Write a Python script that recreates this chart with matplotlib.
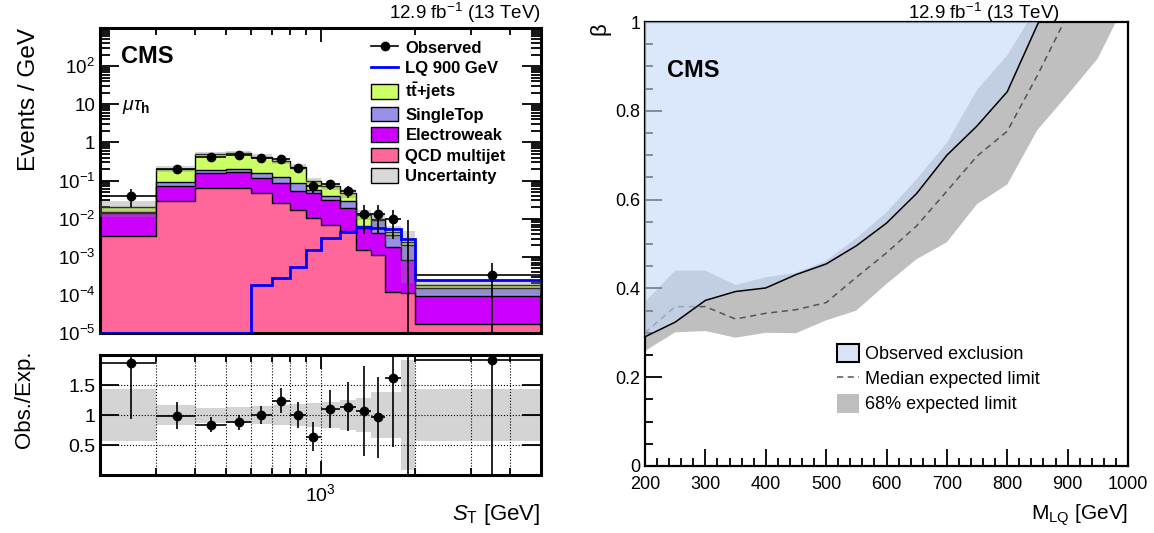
import numpy as np
import matplotlib
matplotlib.use('Agg')
import matplotlib.pyplot as plt
from matplotlib.patches import Patch
from matplotlib.lines import Line2D
from matplotlib.ticker import LogLocator, NullFormatter, MultipleLocator, FixedLocator

plt.rcParams['font.family'] = ['Liberation Sans', 'DejaVu Sans']
plt.rcParams['mathtext.fontset'] = 'custom'
plt.rcParams['mathtext.rm'] = 'Liberation Sans'
plt.rcParams['mathtext.it'] = 'Liberation Sans:italic'
plt.rcParams['mathtext.bf'] = 'Liberation Sans:bold'

# ---- left: S_T distribution (events / GeV) ----
edges = [200, 300, 400, 500, 600, 700, 800, 900, 1000, 1150, 1300, 1450, 1600, 1800, 2000, 5000]
qcd = [3.6e-3, 2.85e-2, 6.4e-2, 6.4e-2, 4.7e-2, 2.6e-2, 1.65e-2, 1.04e-2, 7.0e-3, 4.6e-3, 1.5e-3, 1.1e-3, 1.2e-4, 1.1e-4, 1.7e-5]
ewk = [1.08e-2, 4.2e-2, 9.6e-2, 1.0e-1, 7.1e-2, 6.1e-2, 3.6e-2, 3.7e-2, 2.33e-2, 1.45e-2, 4.2e-3, 3.1e-3, 1.7e-3, 7.2e-4, 7.7e-5]
stop = [8e-4, 1.9e-2, 2.7e-2, 3.8e-2, 4.2e-2, 3.8e-2, 3.5e-2, 1.06e-2, 8.3e-3, 9.4e-3, 6e-4, 4.8e-3, 1.84e-3, 1.24e-3, 5.9e-5]
ttbar = [4.5e-3, 1.13e-1, 3.05e-1, 3.33e-1, 2.6e-1, 1.97e-1, 1.43e-1, 3.8e-2, 3.22e-2, 1.89e-2, 6.5e-3, 8e-4, 8.6e-4, 4.3e-4, 2.9e-5]
lq900 = [0, 0, 0, 0, 1.8e-4, 2.85e-4, 5.5e-4, 1.5e-3, 3.1e-3, 4.4e-3, 5.9e-3, 5.7e-3, 5.4e-3, 3.0e-3, 2.5e-4]
obs_counts = [4, 20, 42, 48, 40, 36, 21, 7, 12, 8, 2, 2, 2, 0, 1]
rel_unc = [0.43, 0.16, 0.125, 0.135, 0.15, 0.17, 0.19, 0.20, 0.21, 0.245, 0.29, 0.39, 0.39, 0.92, 0.435]
ratio_vals = [1.87, 0.99, 0.84, 0.88, 1.0, 1.24, 1.0, 0.64, 1.10, 1.14, 1.06, 0.96, 1.62, 0, 1.91]

# ---- right: beta vs M_LQ exclusion ----
m_obs = [200, 250, 300, 350, 400, 450, 500, 550, 600, 650, 700, 750, 800, 852]
b_obs = [0.291, 0.324, 0.373, 0.393, 0.401, 0.431, 0.455, 0.496, 0.547, 0.614, 0.70, 0.766, 0.843, 1.0]
m_exp = [200, 250, 300, 350, 400, 450, 500, 550, 600, 650, 700, 750, 800, 850, 894]
b_exp = [0.30, 0.359, 0.359, 0.331, 0.344, 0.352, 0.368, 0.425, 0.48, 0.541, 0.619, 0.698, 0.754, 0.88, 1.0]
m_band_hi = [200, 250, 300, 350, 400, 450, 500, 550, 600, 650, 700, 750, 800, 834]
b_band_hi = [0.37, 0.44, 0.44, 0.408, 0.425, 0.435, 0.462, 0.513, 0.571, 0.646, 0.728, 0.847, 0.925, 1.0]
m_band_lo = [200, 250, 300, 350, 400, 450, 500, 550, 600, 650, 700, 750, 800, 850, 900, 950, 980]
b_band_lo = [0.259, 0.301, 0.304, 0.289, 0.30, 0.299, 0.328, 0.35, 0.41, 0.466, 0.504, 0.59, 0.634, 0.757, 0.836, 0.918, 1.0]

W, H = 1154, 533
fig = plt.figure(figsize=(W / 100, H / 100), dpi=100)


def box(x0, y0, x1, y1):
    return [x0 / W, 1 - y1 / H, (x1 - x0) / W, (y1 - y0) / H]


ax = fig.add_axes(box(100, 28, 541, 333))
rax = fig.add_axes(box(100, 355, 541, 475))
bax = fig.add_axes(box(645, 22, 1128, 466))

edges = np.array(edges, dtype=float)
widths = np.diff(edges)
centers = 0.5 * (edges[1:] + edges[:-1])
colors = ['#ff6699', '#cc00ff', '#9990e8', '#ccff66']
cum = np.cumsum(np.array([qcd, ewk, stop, ttbar]), axis=0)

ax.set_xscale('log')
ax.set_yscale('log')
for i in reversed(range(4)):
    ax.stairs(cum[i], edges, baseline=1e-8, fill=True, facecolor=colors[i],
              edgecolor='black', lw=1, zorder=2)
total = cum[-1]
unc = np.array(rel_unc)
ax.stairs(total * (1 + unc), edges, baseline=total * (1 - unc), fill=True,
          facecolor='#888888', alpha=0.35, edgecolor='none', zorder=3)
ax.stairs(np.maximum(lq900, 1.03e-5), edges, baseline=None, color='#0000ff', lw=2, zorder=4)

obs = np.array(obs_counts, dtype=float)
has = obs > 0
dens = obs / widths
err = np.sqrt(obs) / widths
lo = np.minimum(err, dens - 1e-7)
ax.errorbar(centers[has], dens[has], xerr=widths[has] / 2, yerr=[lo[has], err[has]],
            fmt='o', color='black', ms=6, lw=1.2, capsize=0, zorder=5)
ax.vlines(centers[~has], 1e-6, 1.84 / widths[~has], color='black', lw=1.2, zorder=5)

ax.set_xlim(200, 5000)
ax.set_ylim(1e-5, 1e3)
ax.set_yticks([1e-5, 1e-4, 1e-3, 1e-2, 1e-1, 1, 10, 100, 1000],
              labels=[r'$10^{-5}$', r'$10^{-4}$', r'$10^{-3}$', r'$10^{-2}$', r'$10^{-1}$',
                      '1', '10', r'$10^{2}$', ''])
ax.yaxis.set_minor_locator(LogLocator(base=10, subs=np.arange(2, 10), numticks=100))
ax.yaxis.set_minor_formatter(NullFormatter())
ax.xaxis.set_minor_formatter(NullFormatter())
ax.tick_params(which='both', direction='in', top=True, right=True, labelbottom=False,
               labelsize=13.5, width=1.3)
ax.tick_params(axis='y', which='major', length=14)
ax.tick_params(axis='y', which='minor', length=7)
ax.tick_params(axis='x', which='major', length=10)
ax.tick_params(axis='x', which='minor', length=5)

handles = [
    Line2D([], [], color='black', marker='o', ms=6, lw=1.2),
    Line2D([], [], color='#0000ff', lw=2),
    Patch(facecolor=colors[3], edgecolor='black', lw=1),
    Patch(facecolor=colors[2], edgecolor='black', lw=1),
    Patch(facecolor=colors[1], edgecolor='black', lw=1),
    Patch(facecolor=colors[0], edgecolor='black', lw=1),
    Patch(facecolor='#d9d9d9', edgecolor='black', lw=1),
]
labels = ['Observed', 'LQ 900 GeV', r'$\mathbf{t\bar{t}}$+jets', 'SingleTop',
          'Electroweak', 'QCD multijet', 'Uncertainty']
ax.legend(handles, labels, loc='upper left', bbox_to_anchor=(0.615, 0.962), frameon=False,
          prop={'weight': 'bold', 'size': 12}, borderpad=0, borderaxespad=0,
          handlelength=1.6, handleheight=1.0, labelspacing=0.26, handletextpad=0.45)

# ratio panel
rax.set_xscale('log')
rax.stairs(1 + unc, edges, baseline=1 - unc, fill=True, facecolor='#d4d4d4',
           edgecolor='none', zorder=1)
ratio = np.array(ratio_vals)
rerr = np.where(has, ratio / np.sqrt(np.maximum(obs, 1)), 0)
rax.errorbar(centers[has], ratio[has], xerr=widths[has] / 2, yerr=rerr[has],
             fmt='o', color='black', ms=6, lw=1.2, capsize=0, zorder=5)
rax.vlines(centers[~has], 0, 2, color='black', lw=1.2, zorder=5)
rax.set_xlim(200, 5000)
rax.set_ylim(0, 2)
rax.set_yticks([0.5, 1, 1.5], labels=['0.5', '1', '1.5'])
rax.xaxis.set_minor_formatter(NullFormatter())
rax.grid(True, which='both', axis='x', ls=':', color='black', lw=0.8, zorder=2)
rax.grid(True, which='major', axis='y', ls=':', color='black', lw=0.8, zorder=2)
rax.tick_params(which='both', direction='in', top=True, right=True, labelsize=14, width=1.3)
rax.tick_params(axis='y', which='major', length=14)
rax.tick_params(axis='x', which='major', length=10, pad=6)
rax.tick_params(axis='x', which='minor', length=5)

for a in (ax, rax):
    for s in a.spines.values():
        s.set_linewidth(2.2)

# exclusion panel
band_x = m_band_hi + m_band_lo[::-1]
band_y = b_band_hi + b_band_lo[::-1]
bax.fill(band_x, band_y, color='#bfbfbf', lw=0, zorder=1)
bax.plot(m_exp, b_exp, color='#555555', ls=(0, (4, 3)), lw=1.1, zorder=2)
bax.fill(m_obs + [200], b_obs + [1.0], color='#c5d9f9', alpha=0.62, lw=0, zorder=3)
bax.plot(m_obs, b_obs, color='black', lw=1.1, zorder=4)
bax.set_xlim(200, 1000)
bax.set_ylim(0, 1)
bax.xaxis.set_major_locator(MultipleLocator(100))
bax.xaxis.set_minor_locator(MultipleLocator(20))
bax.yaxis.set_major_locator(FixedLocator([0, 0.2, 0.4, 0.6, 0.8, 1.0]))
bax.set_yticklabels(['0', '0.2', '0.4', '0.6', '0.8', '1'])
bax.yaxis.set_minor_locator(MultipleLocator(0.05))
bax.tick_params(which='both', direction='in', labelsize=13, width=1.3)
bax.tick_params(which='major', length=12)
bax.tick_params(which='minor', length=6)
bax.tick_params(axis='x', which='major', pad=7)
for s in bax.spines.values():
    s.set_linewidth(1.6)

rh = [Patch(facecolor='#d8e5f9', edgecolor='black', lw=1.5),
      Line2D([], [], color='#555555', ls=(0, (4, 3)), lw=1.1),
      Patch(facecolor='#bfbfbf', edgecolor='none')]
bax.legend(rh, ['Observed exclusion', 'Median expected limit', '68% expected limit'],
           loc='upper left', bbox_to_anchor=(0.397, 0.275), frameon=False, fontsize=13,
           borderpad=0, borderaxespad=0, handlelength=1.25, handleheight=1.2,
           labelspacing=0.32, handletextpad=0.3)

# texts
lumi = r'12.9 fb$^{-1}$ (13 TeV)'
fig.text(541 / W, 1 - 19 / H, lumi, ha='right', va='baseline', fontsize=13.5)
fig.text(1060 / W, 1 - 19 / H, lumi, ha='right', va='baseline', fontsize=13.5)
fig.text(121 / W, 1 - 63 / H, 'CMS', fontweight='bold', fontsize=17, va='baseline')
fig.text(122 / W, 1 - 110 / H, r'$\mu\tau_{\mathbf{h}}$', fontsize=14, va='baseline')
fig.text(667 / W, 1 - 77 / H, 'CMS', fontweight='bold', fontsize=17, va='baseline')
fig.text(29 / W, 1 - 28 / H, 'Events / GeV', rotation=90, ha='center', va='top', fontsize=17.5)
fig.text(24 / W, 1 - 351 / H, 'Obs./Exp.', rotation=90, ha='center', va='top', fontsize=16)
fig.text(540 / W, 1 - 520 / H, r'$S_{\rm T}$ [GeV]', ha='right', va='baseline', fontsize=16)
fig.text(1128 / W, 1 - 520 / H, r'M$_{\rm LQ}$ [GeV]', ha='right', va='baseline', fontsize=15)
fig.text(600 / W, 1 - 22 / H, 'β', rotation=90, ha='center', va='top', fontsize=16)

fig.savefig('out.png', dpi=100)
